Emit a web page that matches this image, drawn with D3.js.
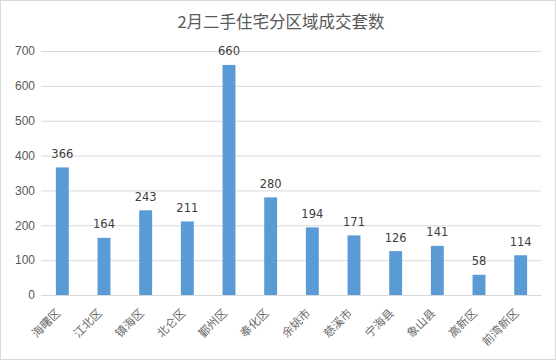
<!DOCTYPE html>
<html><head><meta charset="utf-8">
<script src="https://cdn.jsdelivr.net/npm/d3@7"></script>
<style>body{margin:0;background:#fff}svg{display:block}</style>
</head><body>
<script>
const categories = ["海曙区","江北区","镇海区","北仑区","鄞州区","奉化区","余姚市","慈溪市","宁海县","象山县","高新区","前湾新区"];
const values = [366,164,243,211,660,280,194,171,126,141,58,114];
const yTicks = [0,100,200,300,400,500,600,700];
const title = "2月二手住宅分区域成交套数";

const W = 556, H = 360;
const svg = d3.select("body").append("svg").attr("width", W).attr("height", H);
svg.append("rect").attr("x",0.5).attr("y",0.5).attr("width",W-1).attr("height",H-1)
  .attr("fill","#fff").attr("stroke","#d9d9d9");

const font = "'Noto Sans CJK SC','Noto Sans',sans-serif";
const x = d3.scaleBand().domain(categories).range([41.5, 541.5]).paddingInner(0.69).paddingOuter(0.345);
const y = d3.scaleLinear().domain([0,700]).range([295, 51]);

svg.append("text").attr("x", 281).attr("y", 28).attr("text-anchor","middle")
  .attr("font-family", font).attr("font-size", 16.5).attr("fill","#595959").text(title);

const yAxis = svg.append("g").attr("transform","translate(41,0)")
  .call(d3.axisLeft(y).tickValues(yTicks).tickSize(-500).tickFormat(d3.format("d")));
yAxis.select(".domain").remove();
yAxis.selectAll(".tick line").attr("stroke","#d9d9d9");
yAxis.selectAll(".tick text").attr("x",-6).attr("font-family","'Liberation Sans',Arial,sans-serif")
  .attr("font-size",12).attr("fill","#595959");

svg.append("g").selectAll("rect").data(values).join("rect")
  .attr("x",(d,i)=>x(categories[i])).attr("width",x.bandwidth())
  .attr("y",d=>y(d)).attr("height",d=>y(0)-y(d)).attr("fill","#5b9bd5");

svg.append("g").selectAll("text").data(values).join("text")
  .attr("x",(d,i)=>x(categories[i])+x.bandwidth()/2).attr("y",d=>y(d)-9.5)
  .attr("text-anchor","middle").attr("font-family","'DejaVu Sans',sans-serif")
  .attr("font-size",11.5).attr("fill","#404040").text(d=>d);

const xAxis = svg.append("g").attr("transform","translate(0,295)")
  .call(d3.axisBottom(x).tickSize(0));
xAxis.select(".domain").attr("stroke","#d9d9d9").attr("d","M41,0.5H541.5");
xAxis.selectAll(".tick text").attr("font-family",font).attr("font-size",11.5).attr("fill","#6a6a6a")
  .attr("text-anchor","end").attr("transform","translate(-4,16) rotate(-45)").attr("dy","0.35em").attr("y",0);
</script>
</body></html>
